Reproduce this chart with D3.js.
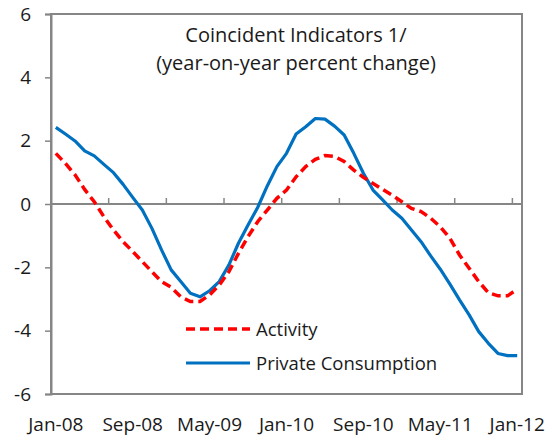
<!DOCTYPE html>
<html>
  <head>
    <meta charset="utf-8">
    <title>Coincident Indicators</title>
    <script src="https://cdnjs.cloudflare.com/ajax/libs/d3/7.8.5/d3.min.js" charset="utf-8"></script>
    <style>
      body { margin: 0; background: #fff; }
      text { font-family: "Open Sans", sans-serif; fill: #1a1a1a; }
    </style>
  </head>
  <body>
    <div id="chart"></div>
    <script>

var months = [
  "Jan-08","Feb-08","Mar-08","Apr-08","May-08","Jun-08","Jul-08","Aug-08","Sep-08","Oct-08","Nov-08","Dec-08",
  "Jan-09","Feb-09","Mar-09","Apr-09","May-09","Jun-09","Jul-09","Aug-09","Sep-09","Oct-09","Nov-09","Dec-09",
  "Jan-10","Feb-10","Mar-10","Apr-10","May-10","Jun-10","Jul-10","Aug-10","Sep-10","Oct-10","Nov-10","Dec-10",
  "Jan-11","Feb-11","Mar-11","Apr-11","May-11","Jun-11","Jul-11","Aug-11","Sep-11","Oct-11","Nov-11","Dec-11",
  "Jan-12"];

var activity = [
  1.60, 1.28, 0.92, 0.46, 0.07, -0.40, -0.82, -1.19, -1.50, -1.82, -2.14, -2.45,
  -2.63, -2.93, -3.08, -3.08, -2.87, -2.56, -2.14, -1.56, -1.03, -0.56, -0.19, 0.18,
  0.44, 0.86, 1.18, 1.41, 1.53, 1.50, 1.34, 1.07, 0.84, 0.65, 0.46, 0.28,
  0.07, -0.14, -0.24, -0.45, -0.72, -1.08, -1.61, -2.03, -2.45, -2.80, -2.90, -2.90,
  -2.69];

var consumption = [
  2.42, 2.21, 1.99, 1.68, 1.52, 1.25, 0.99, 0.62, 0.21, -0.19, -0.77, -1.45,
  -2.08, -2.45, -2.82, -2.93, -2.74, -2.45, -1.93, -1.24, -0.66, -0.11, 0.57, 1.18,
  1.60, 2.21, 2.44, 2.70, 2.68, 2.46, 2.18, 1.60, 0.97, 0.44, 0.13, -0.19,
  -0.45, -0.82, -1.19, -1.64, -2.06, -2.53, -3.03, -3.50, -4.03, -4.40, -4.72, -4.79,
  -4.79];

var xLabels = ["Jan-08","Sep-08","May-09","Jan-10","Sep-10","May-11","Jan-12"];
var yTicks = [-6, -4, -2, 0, 2, 4, 6];
var titleLines = ["Coincident Indicators 1/", "(year-on-year percent change)"];

window.addEventListener("load", draw);

function draw () {
    var width = 552, height = 440;
    var m = {left: 51, right: 522, top: 14, bottom: 394};
    var axisColor = "#868686";

    var svg = d3.select("#chart").append("svg")
        .attr("width", width)
        .attr("height", height);

    var x = d3.scaleBand().domain(months).range([m.left, m.right]).padding(0);
    var y = d3.scaleLinear().domain([-6, 6]).range([m.bottom, m.top]);

    // plot frame
    svg.append("rect")
        .attr("x", m.left).attr("y", m.top)
        .attr("width", m.right - m.left).attr("height", m.bottom - m.top)
        .attr("fill", "none")
        .attr("stroke", axisColor)
        .attr("stroke-width", 2);

    // y axis (plain hyphen for negatives, like the original)
    var yAxis = d3.axisLeft(y).tickValues(yTicks).tickSize(6).tickPadding(14)
        .tickFormat(function(d) { return String(d); });
    var gy = svg.append("g").attr("transform", "translate(" + m.left + ",0)").call(yAxis);
    gy.select(".domain").attr("stroke", axisColor).attr("stroke-width", 2);
    gy.selectAll(".tick line").attr("stroke", axisColor).attr("stroke-width", 1.5);
    gy.selectAll(".tick text")
        .style("font-size", "19px")
        .style("font-family", "Open Sans")
        .attr("fill", "#1a1a1a");

    // x axis on the zero line, ticks every 6 months between categories
    var tickIdx = [0, 6, 12, 18, 24, 30, 36, 42, 48];
    svg.append("line")
        .attr("x1", m.left).attr("x2", m.right)
        .attr("y1", y(0)).attr("y2", y(0))
        .attr("stroke", axisColor).attr("stroke-width", 2);
    svg.selectAll("line.tk").data(tickIdx).enter().append("line")
        .attr("class", "tk")
        .attr("x1", function(d) { return x(months[d]); })
        .attr("x2", function(d) { return x(months[d]); })
        .attr("y1", y(0)).attr("y2", y(0) - 6)
        .attr("stroke", axisColor).attr("stroke-width", 1.5);

    // x labels at bottom
    svg.selectAll("text.xl").data(xLabels).enter().append("text")
        .attr("class", "xl")
        .attr("x", function(d) { return x(d) + x.bandwidth() / 2; })
        .attr("y", 431)
        .attr("text-anchor", "middle")
        .style("font-size", "19px")
        .text(function(d) { return d; });

    // lines
    var line = d3.line()
        .x(function(d, i) { return x(months[i]) + x.bandwidth() / 2; })
        .y(function(d) { return y(d); });

    svg.append("path")
        .datum(consumption)
        .attr("d", line)
        .attr("fill", "none")
        .attr("stroke", "#0070c0")
        .attr("stroke-width", 3.2)
        .attr("stroke-linejoin", "round");

    svg.append("path")
        .datum(activity)
        .attr("d", line)
        .attr("fill", "none")
        .attr("stroke", "#ff0000")
        .attr("stroke-width", 3.5)
        .attr("stroke-dasharray", "9,5");

    // title
    svg.selectAll("text.title").data(titleLines).enter().append("text")
        .attr("class", "title")
        .attr("x", 296)
        .attr("y", function(d, i) { return 42 + i * 28; })
        .attr("text-anchor", "middle")
        .style("font-size", "20px")
        .text(function(d) { return d; });

    // legend
    var legend = [
      {name: "Activity", color: "#ff0000", dash: "9,5", w: 3.5},
      {name: "Private Consumption", color: "#0070c0", dash: null, w: 3.2}
    ];
    var lg = svg.selectAll("g.lg").data(legend).enter().append("g")
        .attr("class", "lg")
        .attr("transform", function(d, i) { return "translate(186," + (329 + i * 34) + ")"; });
    lg.append("line")
        .attr("x1", 0).attr("x2", 64)
        .attr("stroke", function(d) { return d.color; })
        .attr("stroke-width", function(d) { return d.w; })
        .attr("stroke-dasharray", function(d) { return d.dash; });
    lg.append("text")
        .attr("x", 70).attr("y", 7)
        .style("font-size", "18.5px")
        .text(function(d) { return d.name; });
}

    </script>
  </body>
</html>
